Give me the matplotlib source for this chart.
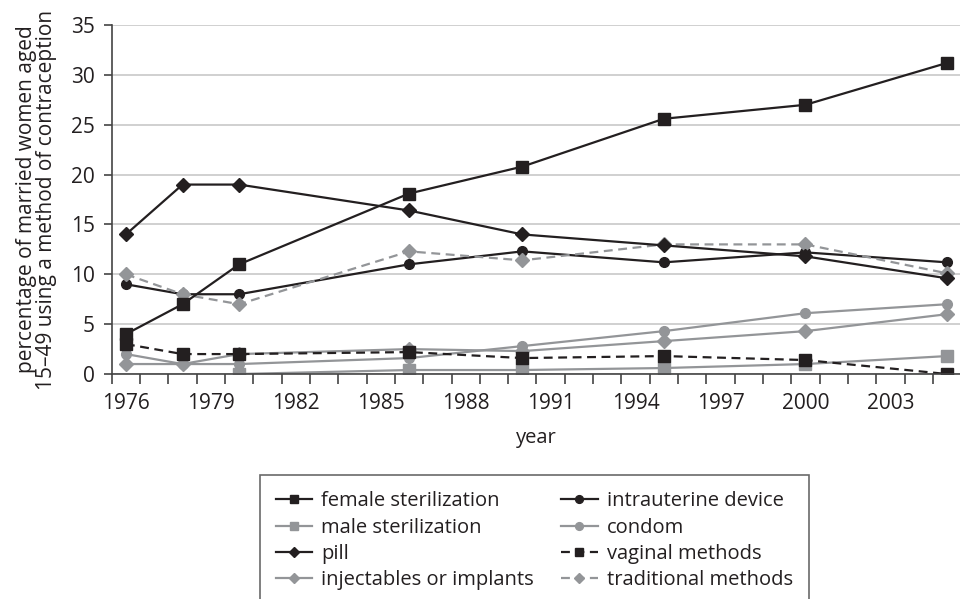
import matplotlib.pyplot as plt
from matplotlib.ticker import MultipleLocator
import numpy as np

plt.rcParams['font.family'] = ['Open Sans', 'DejaVu Sans']

years = [1976, 1978, 1980, 1986, 1990, 1995, 2000, 2005]

female_sterilization = [4, 7, 11, 18.1, 20.8, 25.6, 27.0, 31.2]
male_sterilization = [np.nan, np.nan, 0, 0.4, 0.4, 0.6, 1.0, 1.8]
pill = [14, 19, 19, 16.4, 14, 12.9, 11.8, 9.6]
injectables = [1, 1, 2, 2.5, 2.3, 3.3, 4.3, 6.0]
iud = [9, 8, 8, 11, 12.3, 11.2, 12.2, 11.2]
condom = [2, 1, 1, 1.6, 2.8, 4.3, 6.1, 7.0]
vaginal = [3, 2, 2, 2.2, 1.6, 1.8, 1.4, 0]
traditional = [10, 8, 7, 12.3, 11.4, 13, 13, 10.1]

x_labels = list(range(1976, 2004, 3))

black = '#231f20'
gray = '#939598'
txt = '#231f20'

fig = plt.figure(figsize=(9.6, 5.99), dpi=100)
ax = fig.add_axes([0.1164, 0.3756, 0.8848, 0.5826])

dash = (0, (4, 2.5))
lines = {}
lines['male'] = ax.plot(years, male_sterilization, color=gray, lw=1.6, marker='s', ms=8, label='male sterilization')[0]
lines['condom'] = ax.plot(years, condom, color=gray, lw=1.6, marker='o', ms=7, label='condom')[0]
lines['inj'] = ax.plot(years, injectables, color=gray, lw=1.6, marker='D', ms=7, label='injectables or implants')[0]
lines['iud'] = ax.plot(years, iud, color=black, lw=1.6, marker='o', ms=7, label='intrauterine device')[0]
lines['trad'] = ax.plot(years, traditional, color=gray, lw=1.6, ls=dash, marker='D', ms=7, label='traditional methods')[0]
lines['female'] = ax.plot(years, female_sterilization, color=black, lw=1.6, marker='s', ms=8, label='female sterilization')[0]
lines['pill'] = ax.plot(years, pill, color=black, lw=1.6, marker='D', ms=7, label='pill')[0]
lines['vag'] = ax.plot(years, vaginal, color=black, lw=1.6, ls=dash, marker='s', ms=8, label='vaginal methods')[0]

ax.set_xlim(1975.5, 2005.5)
ax.set_ylim(0, 35)
ax.yaxis.set_major_locator(MultipleLocator(5))
ax.grid(axis='y', color='#c8c8c8', lw=1.2)
ax.set_axisbelow(True)

ax.set_xticks(x_labels)
ax.set_xticklabels([str(y) for y in x_labels])
ax.set_xticks(np.arange(1975.5, 2005, 1), minor=True)
ax.tick_params(axis='x', which='major', length=0, pad=14, labelsize=15, labelcolor=txt)
ax.tick_params(axis='x', which='minor', length=7, width=1.2, color='#444444', direction='out')
ax.tick_params(axis='y', length=6, width=1.2, color='#444444', labelsize=15, labelcolor=txt, pad=6)

for s in ['top', 'right']:
    ax.spines[s].set_visible(False)
for s in ['left', 'bottom']:
    ax.spines[s].set_color('#444444')
    ax.spines[s].set_linewidth(1.2)

ax.set_xlabel('year', fontsize=14.5, color=txt, labelpad=10)
ax.set_ylabel('percentage of married women aged\n15–49 using a method of contraception',
              fontsize=15, color=txt, linespacing=0.95, labelpad=10)

order = ['female', 'male', 'pill', 'inj', 'iud', 'condom', 'vag', 'trad']
handles = [lines[k] for k in order]
leg = fig.legend(handles=handles, labels=[h.get_label() for h in handles], ncol=2,
                 loc='upper left', bbox_to_anchor=(260 / 960, 1 - 475 / 599),
                 borderaxespad=0, fontsize=14.5, frameon=True, fancybox=False,
                 edgecolor='#444444', handlelength=1.8, handletextpad=0.45,
                 columnspacing=1.35, labelspacing=0.32, borderpad=0.8, markerscale=0.8)
leg.get_frame().set_linewidth(1.2)
for t in leg.get_texts():
    t.set_color(txt)

fig.savefig('out.png', dpi=100)
